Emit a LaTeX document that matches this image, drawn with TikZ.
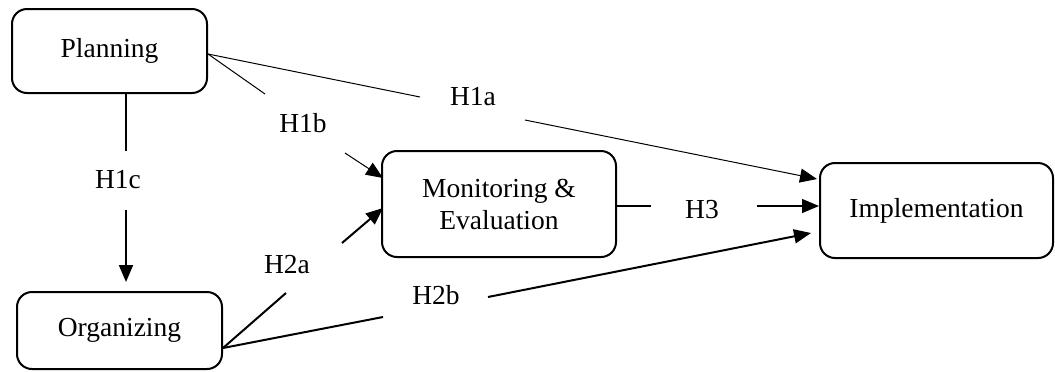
\documentclass[tikz,border=0pt]{standalone}
\usepackage{fontspec}
\newfontfamily\diagfont{Liberation Serif}
\usetikzlibrary{arrows.meta}
\begin{document}
\begin{tikzpicture}[x=0.5pt,y=-0.5pt,
  box/.style={draw,line width=1pt,rounded corners=7.5pt,inner sep=0pt,align=center,
    font=\diagfont\fontsize{13.75}{16}\selectfont},
  lbl/.style={inner sep=1pt,font=\diagfont\fontsize{13.75}{16}\selectfont},
  thin/.style={line width=0.5pt},
  mid/.style={line width=0.65pt},
  thick/.style={line width=1pt},
  tip/.style={-{Triangle[length=8.5pt,width=7pt]}}]
\useasboundingbox (0,0) rectangle (1055,371);
\node[box,minimum width=97.5pt,minimum height=42pt] (plan) at (109.5,51) {Planning};
\node[box,minimum width=117pt,minimum height=53pt] (mon) at (499,204) {Monitoring \&\\Evaluation};
\node[box,minimum width=102.5pt,minimum height=38.5pt] (org) at (119.5,330.5) {Organizing};
\node[box,minimum width=116.5pt,minimum height=47.5pt] (impl) at (936.5,210.5) {Implementation};
% labels
\node[lbl] (h1a) at (473,97) {H1a};
\node[lbl] (h1b) at (303,123) {H1b};
\node[lbl] (h1c) at (118,180) {H1c};
\node[lbl] (h2a) at (287,265) {H2a};
\node[lbl] (h2b) at (436,295) {H2b};
\node[lbl] (h3) at (702,210) {H3};
% coordinates
\coordinate (pstart) at (208,54);
\coordinate (ostart) at (223,348);
\coordinate (a1) at (420,97);   \coordinate (a2) at (525,120);  \coordinate (a3) at (817,179);
\coordinate (b1) at (265,94);   \coordinate (b2) at (345,153);  \coordinate (b3) at (383,178);
\coordinate (c0) at (126,93);   \coordinate (c1) at (126,151);  \coordinate (c2) at (126,210); \coordinate (c3) at (126,282);
\coordinate (d1) at (286,293);  \coordinate (d2) at (342,243);  \coordinate (d3) at (383,208);
\coordinate (e1) at (383,317);  \coordinate (e2) at (488,297);  \coordinate (e3) at (811,233);
\coordinate (f0) at (615,206);  \coordinate (f1) at (651,206);  \coordinate (f2) at (757,206); \coordinate (f3) at (819,206);
% connectors
\draw[thin] (pstart) -- (a1);
\draw[thin,tip] (a2) -- (a3);
\draw[thin] (pstart) -- (b1);
\draw[thin,tip] (b2) -- (b3);
\draw[thick] (c0) -- (c1);
\draw[thick,tip] (c2) -- (c3);
\draw[thick] (ostart) -- (d1);
\draw[thick,tip] (d2) -- (d3);
\draw[thick] (ostart) -- (e1);
\draw[thick,tip] (e2) -- (e3);
\draw[mid] (f0) -- (f1);
\draw[mid,tip] (f2) -- (f3);
\end{tikzpicture}
\end{document}
